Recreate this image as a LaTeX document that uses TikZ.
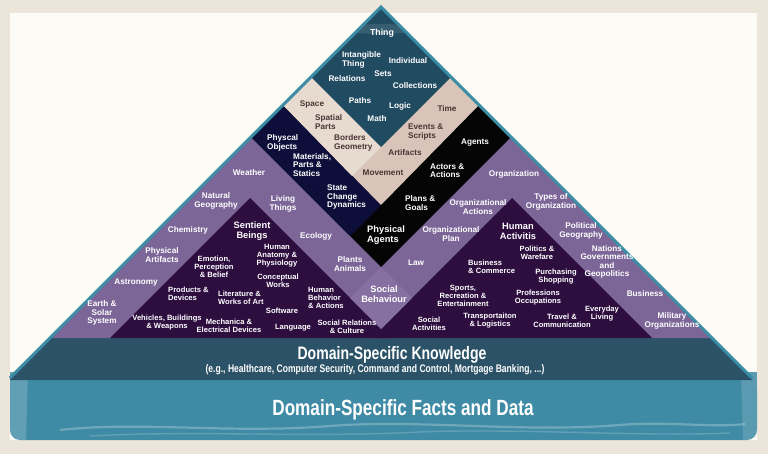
\documentclass[tikz,border=0pt]{standalone}
\usepackage{fontspec}
\setmainfont{Liberation Sans}
\newfontfamily\bandfont[FakeStretch=0.78]{Liberation Sans}

\definecolor{bgout}{HTML}{ECE6DA}
\definecolor{paper}{HTML}{FCFBF5}
\definecolor{tealtop}{HTML}{214B61}
\definecolor{beigeL}{HTML}{E7DACE}
\definecolor{beigeR}{HTML}{D8C4B8}
\definecolor{navyband}{HTML}{0E0E3A}
\definecolor{blackband}{HTML}{050506}
\definecolor{lilac}{HTML}{7C6698}
\definecolor{lilacsoc}{HTML}{8670A1}
\definecolor{plum}{HTML}{2D0E3F}
\definecolor{edgeteal}{HTML}{3B8CA5}
\definecolor{banddark}{HTML}{2B5267}
\definecolor{bandlight}{HTML}{3F8BA5}
\definecolor{inkbrown}{HTML}{4A3535}

\begin{document}
\begin{tikzpicture}[x=1pt,y=-1pt,
  lbl/.style={text=white, font=\bfseries\fontsize{8.2}{8.4}\selectfont, align=center, inner sep=0pt},
  lblsm/.style={lbl, font=\bfseries\fontsize{7.6}{8}\selectfont},
  lblbig/.style={lbl, font=\bfseries\fontsize{9.3}{10}\selectfont},
  lbldk/.style={lbl, text=inkbrown},
  lleft/.style={anchor=west, align=left},
  bandtitle/.style={text=white, inner sep=0pt, align=center}]

\useasboundingbox (0,0) rectangle (768,454);

% backdrop and paper sheet
\fill[bgout] (0,0) rectangle (768,454);
\fill[paper] (10,13) rectangle (757,440);

% lower bands
\fill[bandlight] (10,372) rectangle (757,400);
\fill[bandlight, rounded corners=10] (10,380) rectangle (757,440);
\fill[white, opacity=0.18] (10,372) -- (28,372) -- (26,440) -- (10,440) -- cycle;
\fill[white, opacity=0.14] (741,372) -- (757,372) -- (757,440) -- (743,440) -- cycle;
\draw[white, opacity=0.25, line width=2.2] (60,430) .. controls (140,421) and (230,434) .. (330,426) .. controls (420,419) and (520,433) .. (620,425) .. controls (670,421) and (710,428) .. (745,424);
\draw[white, opacity=0.18, line width=1.4] (90,436) .. controls (200,430) and (300,438) .. (420,432) .. controls (520,428) and (640,437) .. (730,433);
\fill[banddark] (50,338) -- (712,338) -- (752,378) -- (752,380) -- (10,380) -- (10,378) -- cycle;

% pyramid levels, from the widest band inwards
\fill[lilac] (381,7) -- (50,338) -- (712,338) -- cycle;
\fill[plum] (250,198) -- (110,338) -- (390,338) -- cycle;
\fill[plum] (512,198) -- (372,338) -- (652,338) -- cycle;
\fill[lilacsoc] (381,267) -- (350,298) -- (381,329) -- (412,298) -- cycle;
\fill[blackband] (381,7) -- (251,137) -- (381,267) -- (511,137) -- cycle;
\fill[navyband] (283,105) -- (251,137) -- (350,236) -- (381,205) -- cycle;
\fill[beigeR] (381,7) -- (283,105) -- (381,205) -- (479,105) -- cycle;
\fill[beigeL] (311,77) -- (283,105) -- (352,176) -- (381,147) -- cycle;
\fill[tealtop] (381,7) -- (311,77) -- (381,147) -- (451,77) -- cycle;
\fill[white, opacity=0.10] (381,29) ellipse (38 and 5);

% outer rim
\draw[edgeteal, line width=3] (10,378) -- (381,7) -- (752,378);

% Thing
\node[lbl, font=\bfseries\fontsize{8.8}{9}\selectfont] (thing) at (382,33) {Thing};
\node[lbl, lleft] (intangible) at (342,60) {Intangible\\Thing};
\node[lbl] (individual) at (408,61) {Individual};
\node[lbl] (sets) at (383,74) {Sets};
\node[lbl] (relations) at (347,79) {Relations};
\node[lbl] (collections) at (415,86) {Collections};
\node[lbl] (paths) at (360,101) {Paths};
\node[lbl] (logic) at (400,106) {Logic};
\node[lbl] (math) at (377,119) {Math};

% space and time
\node[lbldk] (space) at (312,104) {Space};
\node[lbldk, lleft] (spatial) at (315,122) {Spatial\\Parts};
\node[lbldk, lleft] (borders) at (334,143) {Borders\\Geometry};
\node[lbldk] (time) at (447,109) {Time};
\node[lbldk, lleft] (events) at (408,132) {Events \&\\Scripts};
\node[lbldk] (artifacts) at (405,153) {Artifacts};
\node[lbldk] (movement) at (383,173) {Movement};

% physical objects and agents
\node[lbl, lleft] (physobj) at (267,143) {Physcal\\Objects};
\node[lbl, lleft] (materials) at (293,165) {Materials,\\Parts \&\\Statics};
\node[lbl, lleft] (statechange) at (327,197) {State\\Change\\Dynamics};
\node[lbl] (agents) at (475,143) {Agents};
\node[lbl, lleft] (actors) at (430,171) {Actors \&\\Actions};
\node[lbl, lleft] (plans) at (405,203) {Plans \&\\Goals};
\node[lblbig, lleft] (physagents) at (367,235) {Physical\\Agents};

% natural world
\node[lbl] (weather) at (249,173) {Weather};
\node[lbl] (natgeo) at (216,201) {Natural\\Geography};
\node[lbl] (living) at (283,204) {Living\\Things};
\node[lbl] (chemistry) at (188,230) {Chemistry};
\node[lbl] (ecology) at (316,236) {Ecology};
\node[lbl] (physart) at (162,255) {Physical\\Artifacts};
\node[lbl] (plants) at (350,264) {Plants\\Animals};
\node[lbl] (astronomy) at (136,283) {Astronomy};
\node[lbl] (earth) at (102,313) {Earth \&\\Solar\\System};
\node[lblbig] (socbeh) at (384,294) {Social\\Behaviour};

% sentient beings
\node[lblbig] (sentient) at (252,231) {Sentient\\Beings};
\node[lblsm] (anatomy) at (277,256) {Human\\Anatomy \&\\Physiology};
\node[lblsm] (emotion) at (214,267) {Emotion,\\Perception\\\& Belief};
\node[lblsm] (conceptual) at (278,281) {Conceptual\\Works};
\node[lblsm, lleft] (products) at (168,294) {Products \&\\Devices};
\node[lblsm, lleft] (literature) at (218,298) {Literature \&\\Works of Art};
\node[lblsm, lleft] (humbeh) at (308,298) {Human\\Behavior\\\& Actions};
\node[lblsm] (software) at (282,311) {Software};
\node[lblsm] (vehicles) at (167,323) {Vehicles, Buildings\\\& Weapons};
\node[lblsm] (mechanica) at (229,326) {Mechanica \&\\Electrical Devices};
\node[lblsm] (language) at (293,328) {Language};
\node[lblsm] (socrel) at (347,327) {Social Relations\\\& Culture};

% organizations
\node[lbl] (organization) at (514,174) {Organization};
\node[lbl] (types) at (551,202) {Types of\\Organization};
\node[lbl] (orgactions) at (478,207) {Organizational\\Actions};
\node[lbl] (orgplan) at (451,234) {Organizational\\Plan};
\node[lbl] (polgeo) at (581,231) {Political\\Geography};
\node[lbl] (law) at (416,263) {Law};
\node[lbl] (nations) at (607,262) {Nations\\Governments\\and\\Geopolitics};
\node[lbl] (business) at (645,294) {Business};
\node[lbl] (military) at (672,321) {Military\\Organizations};

% human activities
\node[lblbig] (humact) at (518,231) {Human\\Activitis};
\node[lblsm] (politics) at (537,253) {Politics \&\\Warefare};
\node[lblsm, lleft] (buscomm) at (468,267) {Business\\\& Commerce};
\node[lblsm] (purchasing) at (556,277) {Purchasing\\Shopping};
\node[lblsm] (sports) at (463,296) {Sports,\\Recreation \&\\Entertainment};
\node[lblsm] (professions) at (538,298) {Professions\\Occupations};
\node[lblsm] (everyday) at (602,314) {Everyday\\Living};
\node[lblsm] (travel) at (562,321) {Travel \&\\Communication};
\node[lblsm] (transport) at (490,321) {Transportaiton\\\& Logistics};
\node[lblsm] (socact) at (429,324) {Social\\Activities};

% band titles
\node[bandtitle, font=\bandfont\bfseries\fontsize{18}{18}\selectfont] (dsk) at (392,355) {Domain-Specific Knowledge};
\node[bandtitle, font=\bandfont\bfseries\fontsize{11}{11}\selectfont] (dskex) at (375,370) {(e.g., Healthcare, Computer Security, Command and Control, Mortgage Banking, ...)};
\node[bandtitle, font=\bandfont\bfseries\fontsize{22}{22}\selectfont] (dsf) at (403,410) {Domain-Specific Facts and Data};

\end{tikzpicture}
\end{document}
